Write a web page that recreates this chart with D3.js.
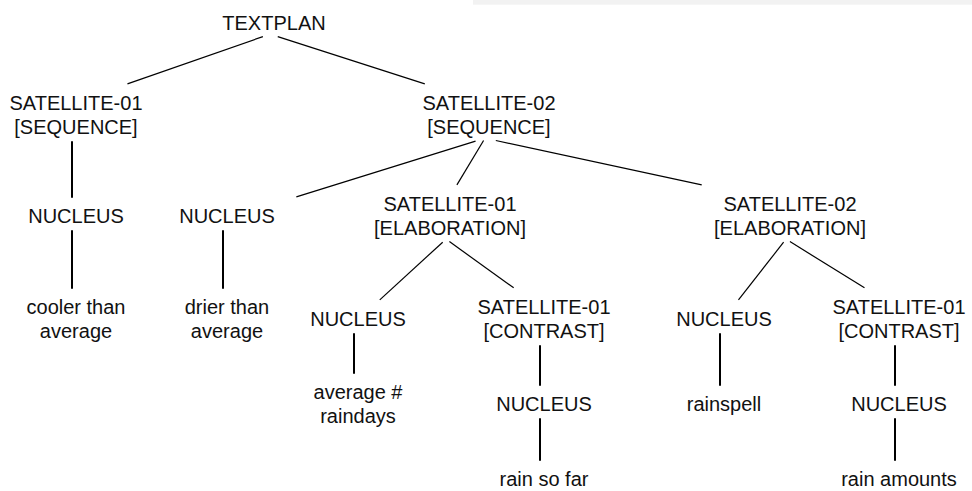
<!DOCTYPE html>
<html>
<head>
<meta charset="utf-8">
<script src="https://cdn.jsdelivr.net/npm/d3@7"></script>
<style>
  html, body { margin: 0; padding: 0; background: #fff; }
  svg { display: block; }
</style>
</head>
<body>
<div id="chart"></div>
<script>
// ---- data: tree structure ----
const nodeIds   = ["root","s1","s2","n1","t1","n2","e1","e2","t2","n3","c1","t3","n4","t4","n5","c2","t5","n6","t6"];
const parentIds = ["",   "root","root","s1","n1","s2","s2","s2","n2","e1","e1","n3","c1","n4","e2","e2","n5","c2","n6"];
const nodeLabels = [
  "TEXTPLAN",
  "SATELLITE-01\n[SEQUENCE]",
  "SATELLITE-02\n[SEQUENCE]",
  "NUCLEUS",
  "cooler than\naverage",
  "NUCLEUS",
  "SATELLITE-01\n[ELABORATION]",
  "SATELLITE-02\n[ELABORATION]",
  "drier than\naverage",
  "NUCLEUS",
  "SATELLITE-01\n[CONTRAST]",
  "average #\nraindays",
  "NUCLEUS",
  "rain so far",
  "NUCLEUS",
  "SATELLITE-01\n[CONTRAST]",
  "rainspell",
  "NUCLEUS",
  "rain amounts"
];

// ---- layout (pixel calibration of the tree's columns and levels) ----
const W = 972, H = 491;
const columnPx = [72, 223, 270, 354, 446, 485, 540, 720, 786, 895];
const levelPx  = [23, 115, 216, 319, 404, 479];
const FS = 20, LH = 24, CAP = 14.3, TEXT_DX = 4;

const svg = d3.select("#chart").append("svg").attr("width", W).attr("height", H);

// light grey strip at the top right
svg.append("rect").attr("x", 473).attr("y", 0).attr("width", W - 473).attr("height", 4.7).attr("fill", "#f2f2f2");

const table = nodeIds.map((id, i) => ({ id, parentId: parentIds[i] || null, label: nodeLabels[i] }));
const root = d3.stratify().id(d => d.id).parentId(d => d.parentId)(table);
d3.tree().nodeSize([1, 1]).separation(() => 1)(root);

const key = v => +v.toFixed(6);
const cols = Array.from(new Set(root.descendants().map(d => key(d.x)))).sort((a, b) => a - b);
const x = d3.scaleLinear().domain(cols).range(columnPx.slice(0, cols.length));
const y = d3.scaleLinear().domain(d3.range(levelPx.length)).range(levelPx);

root.descendants().forEach(d => {
  d.lines = d.data.label.split("\n");
  d.px = x(key(d.x));
  d.yc = y(d.depth);
  d.firstBase = d.yc - (d.lines.length - 1) * LH / 2 + CAP / 2;
  d.lastBase = d.firstBase + (d.lines.length - 1) * LH;
  d.top = d.firstBase - CAP;
});

// ---- edges ----
const g = svg.append("g");
root.links().forEach(l => {
  const p = l.source, c = l.target;
  if (p.children.length === 1) {
    g.append("line")
      .attr("x1", p.px).attr("x2", c.px)
      .attr("y1", p.lastBase + 7).attr("y2", c.top - 11)
      .attr("stroke", "#000").attr("stroke-width", 2);
  } else {
    const ax = p.px, ay = p.lastBase + 4;
    const bx = c.px + (p.px - c.px) * 0.28, by = c.top - 12;
    const sx = ax + (bx - ax) * 0.05, sy = ay + (by - ay) * 0.05;
    g.append("line")
      .attr("x1", sx).attr("y1", sy).attr("x2", bx).attr("y2", by)
      .attr("stroke", "#000").attr("stroke-width", 1.2);
  }
});

// ---- labels ----
const labels = svg.append("g")
  .attr("font-family", "'Liberation Sans', Arial, Helvetica, sans-serif")
  .attr("font-size", FS)
  .attr("fill", "#111")
  .attr("text-anchor", "middle");

root.descendants().forEach(d => {
  const t = labels.append("text").attr("x", d.px + TEXT_DX).attr("y", d.firstBase);
  d.lines.forEach((line, i) => {
    t.append("tspan").attr("x", d.px + TEXT_DX).attr("y", d.firstBase + i * LH).text(line);
  });
});
</script>
</body>
</html>
